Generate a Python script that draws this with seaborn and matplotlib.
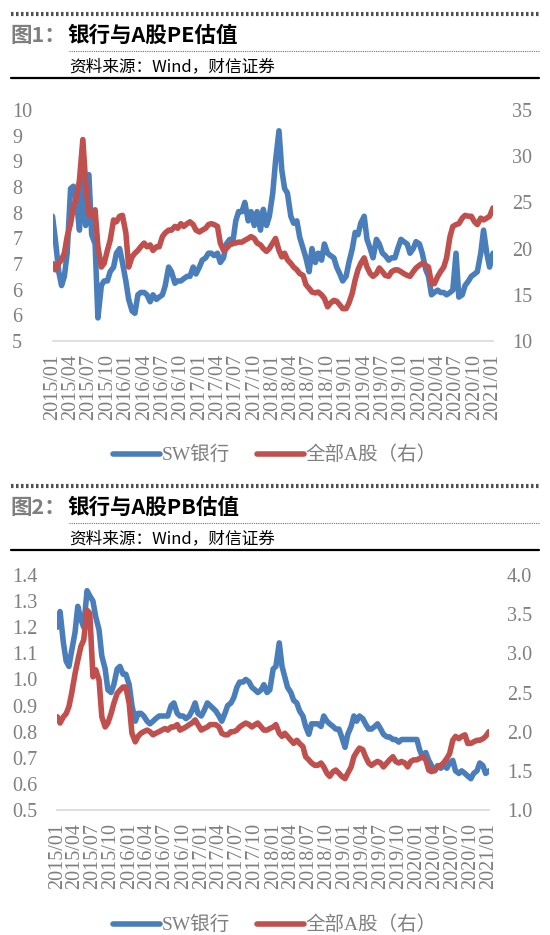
import pandas as pd
import seaborn as sns
import matplotlib.pyplot as plt
import matplotlib.dates as mdates
from matplotlib.lines import Line2D
from matplotlib.ticker import FormatStrFormatter
import numpy as np

# semi-monthly readings, 2015/01 .. 2021/01
dates = pd.date_range("2015-01-01", "2021-01-01", freq="SMS")
quarters = pd.date_range("2015-01-01", "2021-01-01", freq="QS")

pe_bank = [7.7, 7.2, 6.5, 6.2, 6.4, 6.9, 8.3, 8.35, 8.0, 7.4, 8.5, 7.5, 8.6, 7.3, 7.1, 5.5, 6.2, 6.3, 6.3, 6.5, 6.6, 6.9, 7.0, 6.7,
           6.3, 5.9, 5.65, 5.6, 6.0, 6.05, 6.05, 6.0, 5.85, 6.0, 5.9, 5.95, 6.0, 6.2, 6.6, 6.5, 6.25, 6.3, 6.3, 6.35, 6.4, 6.4, 6.6, 6.45,
           6.6, 6.75, 6.8, 6.9, 6.9, 6.85, 6.9, 6.7, 6.8, 7.1, 7.2, 7.1, 7.6, 7.8, 7.8, 8.0, 7.6, 7.8, 7.5, 7.8, 7.4, 7.85, 7.5, 7.7,
           8.2, 8.9, 9.55, 8.7, 8.3, 8.2, 7.7, 7.55, 7.6, 7.25, 7.0, 6.8, 6.5, 7.0, 6.7, 6.9, 6.75, 7.1, 6.9, 6.85, 6.8, 6.6, 6.45, 6.3,
           6.4, 6.7, 7.0, 7.35, 7.3, 7.55, 7.7, 7.2, 7.0, 6.8, 7.2, 7.1, 6.9, 6.85, 6.75, 6.8, 6.8, 7.0, 7.2, 7.15, 7.1, 6.9, 7.0, 7.15,
           7.1, 6.9, 6.55, 6.4, 6.0, 6.05, 6.1, 6.05, 6.05, 6.0, 6.05, 6.1, 6.9, 5.95, 6.0, 6.2, 6.3, 6.4, 6.45, 6.5, 6.9, 7.4, 6.9, 6.6,
           6.9]
pe_all = [18.4, 17.7, 18.4, 18.8, 19.5, 21.3, 22.7, 24.5, 25.6, 27.4, 31.8, 27.1, 23.8, 23.5, 24.2, 20.2, 18.0, 18.4, 19.8, 20.9, 23.1, 22.9, 23.5, 23.6,
          21.7, 18.0, 19.1, 19.5, 19.8, 20.2, 20.6, 20.2, 20.4, 19.8, 20.2, 20.2, 21.3, 21.7, 22.0, 22.0, 22.4, 22.2, 22.7, 22.4, 22.7, 22.9, 22.6, 22.0,
          21.8, 22.0, 22.2, 22.6, 22.7, 22.6, 22.4, 20.6, 19.8, 20.0, 20.4, 20.6, 20.6, 20.7, 20.7, 20.9, 21.1, 21.3, 21.1, 20.6, 20.4, 20.0, 19.7, 20.0,
          20.6, 21.1, 19.8, 19.1, 19.5, 18.8, 18.4, 18.0, 17.7, 17.3, 17.1, 16.1, 15.7, 15.3, 15.2, 15.3, 15.0, 14.6, 13.7, 14.1, 14.4, 14.3, 13.9, 13.5,
          13.5, 14.1, 15.2, 16.6, 17.7, 18.4, 19.0, 18.0, 17.3, 17.0, 17.3, 17.9, 17.5, 17.1, 17.0, 17.5, 17.7, 17.7, 17.5, 17.3, 17.1, 17.0, 17.5, 17.9,
          18.2, 18.4, 18.2, 18.0, 16.2, 16.2, 17.0, 17.5, 18.0, 19.0, 21.3, 22.4, 22.6, 22.7, 23.3, 23.6, 23.5, 23.5, 22.9, 22.6, 23.3, 23.1, 23.3, 23.5,
          24.4]
pb_bank = [1.2, 1.26, 1.14, 1.07, 1.05, 1.11, 1.18, 1.28, 1.23, 1.20, 1.34, 1.32, 1.30, 1.24, 1.19, 1.09, 1.04, 0.96, 0.95, 0.98, 1.04, 1.05, 1.02, 1.02,
           0.98, 0.90, 0.84, 0.87, 0.87, 0.86, 0.84, 0.83, 0.84, 0.85, 0.86, 0.86, 0.86, 0.86, 0.90, 0.91, 0.87, 0.86, 0.86, 0.85, 0.86, 0.88, 0.91, 0.87,
           0.86, 0.88, 0.91, 0.90, 0.89, 0.88, 0.86, 0.84, 0.87, 0.90, 0.91, 0.93, 0.97, 0.99, 0.99, 1.00, 0.99, 0.97, 0.96, 0.95, 0.96, 0.98, 0.95, 0.96,
           1.04, 1.05, 1.14, 1.05, 1.01, 0.97, 0.95, 0.92, 0.91, 0.88, 0.86, 0.82, 0.79, 0.83, 0.83, 0.83, 0.82, 0.86, 0.84, 0.83, 0.82, 0.81, 0.81, 0.78,
           0.74, 0.79, 0.82, 0.86, 0.84, 0.86, 0.85, 0.83, 0.81, 0.81, 0.82, 0.83, 0.81, 0.79, 0.78, 0.78, 0.77, 0.77, 0.76, 0.77, 0.77, 0.77, 0.77, 0.77,
           0.77, 0.73, 0.70, 0.72, 0.69, 0.67, 0.65, 0.67, 0.66, 0.67, 0.66, 0.68, 0.69, 0.65, 0.64, 0.65, 0.64, 0.63, 0.62, 0.64, 0.65, 0.68, 0.67, 0.64,
           0.65]
pb_all = [2.19, 2.11, 2.19, 2.23, 2.32, 2.49, 2.74, 2.91, 3.09, 3.17, 3.55, 3.51, 2.70, 2.79, 2.66, 2.19, 2.06, 2.11, 2.23, 2.36, 2.49, 2.53, 2.57, 2.57,
          2.36, 1.98, 1.87, 1.94, 1.98, 2.00, 2.02, 2.00, 1.96, 1.98, 2.00, 2.02, 2.04, 2.02, 2.06, 2.06, 2.09, 2.02, 2.04, 2.06, 2.09, 2.11, 2.15, 2.09,
          2.02, 2.04, 2.06, 2.09, 2.09, 2.09, 2.06, 1.98, 1.96, 1.96, 2.00, 2.00, 2.02, 2.06, 2.09, 2.11, 2.09, 2.06, 2.09, 2.11, 2.06, 2.02, 2.02, 2.04,
          2.06, 2.09, 1.98, 1.94, 1.98, 1.94, 1.89, 1.85, 1.89, 1.85, 1.81, 1.68, 1.64, 1.60, 1.57, 1.57, 1.60, 1.55, 1.47, 1.43, 1.49, 1.51, 1.47, 1.43,
          1.40, 1.47, 1.55, 1.68, 1.74, 1.79, 1.77, 1.68, 1.60, 1.57, 1.60, 1.62, 1.60, 1.55, 1.60, 1.64, 1.68, 1.62, 1.60, 1.62, 1.60, 1.55, 1.62, 1.64,
          1.64, 1.66, 1.68, 1.64, 1.51, 1.49, 1.51, 1.55, 1.57, 1.60, 1.66, 1.72, 1.89, 1.94, 1.91, 1.94, 1.96, 1.85, 1.85, 1.87, 1.89, 1.89, 1.91, 1.94,
          2.00]

series_names = ["SW银行", "全部A股（右）"]
source = "资料来源：Wind，财信证券"

BLUE = "#4a7ebb"
RED = "#c0504d"
GREY = "#7f7f7f"

sns.set_style("white")
plt.rcParams["font.family"] = ["Liberation Serif", "Noto Sans CJK SC"]

W, H = 550, 935
fig = plt.figure(figsize=(W / 100, H / 100), dpi=100)


def hline(x0, x1, y, **kw):
    fig.add_artist(Line2D([x0 / W, x1 / W], [1 - y / H] * 2, transform=fig.transFigure, **kw))


def header(top, num, title):
    hline(10.5, 539, top, color="#505050", lw=3, dashes=(0.6, 0.6))
    fig.text(10.5 / W, 1 - (top + 21) / H, f"图{num}：", color=GREY, fontsize=15.5,
             fontweight="bold", family="Noto Sans CJK SC", va="center")
    fig.text(67 / W, 1 - (top + 21) / H, title, color="black", fontsize=15.5,
             fontweight="bold", family="Noto Sans CJK SC", va="center")
    hline(69, 539, top + 37, color="#707070", lw=0.8, ls=(0, (1, 1)))
    fig.text(69 / W, 1 - (top + 53) / H, source, color="black", fontsize=12,
             family="Noto Sans CJK SC", va="center")
    hline(10.5, 539, top + 64, color="black", lw=1.6)


def panel(x0, x1, y0, y1, bank, allv, lticks, lfmt, rticks, rfmt, lpad, rpad, leg_y):
    ax = fig.add_axes([x0 / W, 1 - y1 / H, (x1 - x0) / W, (y1 - y0) / H])
    ax2 = ax.twinx()
    sns.lineplot(x=dates, y=bank, ax=ax, color=BLUE, lw=4)
    sns.lineplot(x=dates, y=allv, ax=ax2, color=RED, lw=4)
    ax.set_xlim(dates[0], dates[-1])
    ax.set_xticks(quarters)
    ax.xaxis.set_major_formatter(mdates.DateFormatter("%Y/%m"))
    ax.set_ylim(lticks[0], lticks[-1])
    ax.set_yticks(lticks)
    ax.yaxis.set_major_formatter(FormatStrFormatter(lfmt))
    ax2.set_ylim(rticks[0], rticks[-1])
    ax2.set_yticks(rticks)
    ax2.yaxis.set_major_formatter(FormatStrFormatter(rfmt))
    for a in (ax, ax2):
        a.set_xlabel("")
        a.set_ylabel("")
        for s in a.spines.values():
            s.set_visible(False)
    ax.spines["bottom"].set_visible(True)
    ax.spines["bottom"].set_color("#d9d9d9")
    ax.spines["bottom"].set_linewidth(1.2)
    ax.tick_params(axis="x", length=3.6, width=1, color="#d9d9d9", direction="out",
                   labelsize=14.5, labelcolor=GREY, pad=6, rotation=90)
    ax.tick_params(axis="y", length=0, labelsize=14.5, labelcolor=GREY, pad=lpad)
    ax2.tick_params(axis="y", length=0, labelsize=14.5, labelcolor=GREY, pad=rpad)
    plt.setp(ax.get_yticklabels(), ha="left")
    handles = [Line2D([], [], color=BLUE, lw=4, solid_capstyle="round"),
               Line2D([], [], color=RED, lw=4, solid_capstyle="round")]
    fig.legend(handles, series_names, loc="center", bbox_to_anchor=(0.5, 1 - leg_y / H),
               ncol=2, frameon=False, fontsize=14, handlelength=2.4, handletextpad=0.1,
               columnspacing=1.4, labelcolor=GREY)
    return ax, ax2


header(14, 1, "银行与A股PE估值")
panel(52.5, 493, 110, 341, pe_bank, pe_all,
      np.linspace(5, 10, 10), "%.0f", np.arange(10, 36, 5), "%d", 29, 13.7, 455)

header(486, 2, "银行与A股PB估值")
panel(57.3, 489, 575, 810, pb_bank, pb_all,
      np.linspace(0.5, 1.4, 10), "%.1f", np.arange(1.0, 4.01, 0.5), "%.1f", 32.6, 13, 925)

fig.savefig("out.png", dpi=100)
